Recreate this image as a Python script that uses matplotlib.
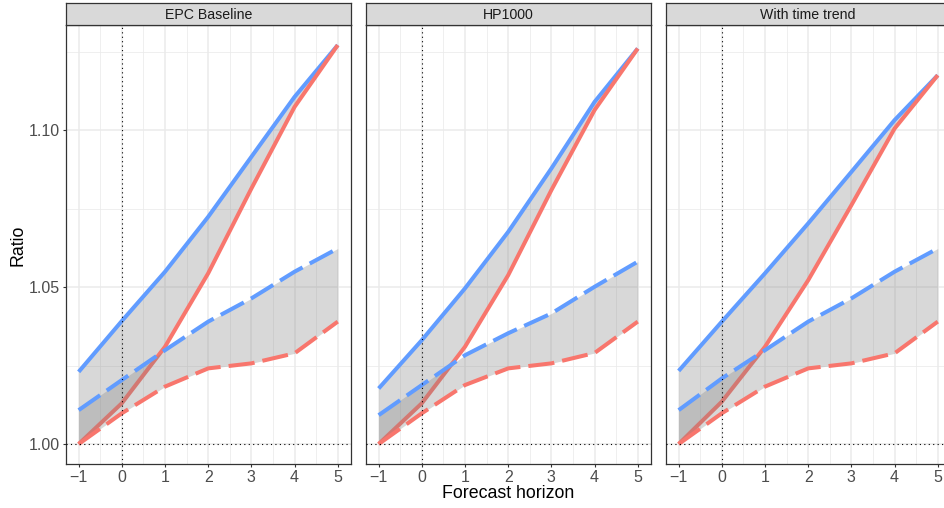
"""Ratio by forecast horizon, three model specs side by side (ggplot-ish facet look)."""
import matplotlib.pyplot as plt

plt.rcParams["font.family"] = ["Liberation Sans", "DejaVu Sans"]

horizon = [-1, 0, 1, 2, 3, 4, 5]
panels = ["EPC Baseline", "HP1000", "With time trend"]

# blue solid / red solid bound the first ribbon, the dashed pair the second
blue_solid = {
    "EPC Baseline":    [1.0230, 1.0392, 1.0549, 1.0724, 1.0915, 1.1106, 1.1271],
    "HP1000":          [1.0177, 1.0331, 1.0496, 1.0676, 1.0878, 1.1090, 1.1260],
    "With time trend": [1.0233, 1.0390, 1.0544, 1.0703, 1.0867, 1.1032, 1.1175],
}
red_solid = {
    "EPC Baseline":    [1.0000, 1.0130, 1.0310, 1.0544, 1.0814, 1.1074, 1.1271],
    "HP1000":          [1.0000, 1.0130, 1.0310, 1.0538, 1.0809, 1.1064, 1.1260],
    "With time trend": [1.0000, 1.0135, 1.0310, 1.0522, 1.0761, 1.1005, 1.1175],
}
blue_dashed = {
    "EPC Baseline":    [1.0108, 1.0204, 1.0299, 1.0390, 1.0464, 1.0549, 1.0623],
    "HP1000":          [1.0092, 1.0188, 1.0283, 1.0353, 1.0416, 1.0501, 1.0581],
    "With time trend": [1.0108, 1.0209, 1.0299, 1.0390, 1.0464, 1.0549, 1.0623],
}
red_dashed = {
    "EPC Baseline":    [1.0000, 1.0098, 1.0183, 1.0241, 1.0257, 1.0289, 1.0390],
    "HP1000":          [1.0000, 1.0098, 1.0188, 1.0241, 1.0257, 1.0290, 1.0390],
    "With time trend": [1.0000, 1.0098, 1.0183, 1.0241, 1.0257, 1.0289, 1.0390],
}

yticks = [1.00, 1.05, 1.10]
ytick_labels = ["1.00", "1.05", "1.10"]
xtick_labels = ["\u22121", "0", "1", "2", "3", "4", "5"]

BLUE = "#619CFF"
RED = "#F8766D"
W, H = 944, 508

fig = plt.figure(figsize=(W / 100, H / 100), dpi=100)

left0, pw, gap = 65.7, 285.0, 15.0
top, bottom = 25.0, 464.0
strip_top = 3.0

for i, name in enumerate(panels):
    x0 = left0 + i * (pw + gap)
    ax = fig.add_axes([x0 / W, (H - bottom) / H, pw / W, (bottom - top) / H])

    # ribbon between the solid lines sits under them; the dashed ribbon
    # goes over the solid lines (that's why the red solid darkens bottom-left)
    ax.fill_between(horizon, red_solid[name], blue_solid[name],
                    color="#7f7f7f", alpha=0.3, lw=0, zorder=1.5)
    ax.plot(horizon, blue_solid[name], color=BLUE, lw=2.9, solid_capstyle="butt", zorder=2)
    ax.plot(horizon, red_solid[name], color=RED, lw=2.9, solid_capstyle="butt", zorder=2)
    ax.fill_between(horizon, red_dashed[name], blue_dashed[name],
                    color="#7f7f7f", alpha=0.3, lw=0, zorder=2.5)
    ax.plot(horizon, blue_dashed[name], color=BLUE, lw=2.9, dashes=(6.5, 2), zorder=3)
    ax.plot(horizon, red_dashed[name], color=RED, lw=2.9, dashes=(6.5, 2), zorder=3)

    ax.axvline(0, color="black", lw=0.8, ls=(0, (1, 3)), zorder=4)
    ax.axhline(1.0, color="black", lw=0.8, ls=(0, (1, 3)), zorder=4)

    ax.set_xlim(-1.3, 5.3)
    ax.set_ylim(0.99364, 1.1335)
    ax.set_xticks(horizon)
    ax.set_xticks([-0.5, 0.5, 1.5, 2.5, 3.5, 4.5], minor=True)
    ax.set_yticks(yticks)
    ax.set_yticks([1.025, 1.075, 1.125], minor=True)
    ax.set_xticklabels(xtick_labels)
    if i == 0:
        ax.set_yticklabels(ytick_labels)
    else:
        ax.tick_params(axis="y", which="major", left=False, labelleft=False)

    ax.grid(True, which="major", color="#ebebeb", lw=1.1, zorder=0)
    ax.grid(True, which="minor", color="#ebebeb", lw=0.55, zorder=0)
    ax.set_axisbelow(True)
    ax.tick_params(which="major", length=2.5, width=0.8, color="#333333",
                   labelsize=11.5, labelcolor="#4d4d4d", pad=1.5)
    ax.tick_params(which="minor", length=0)
    for sp in ax.spines.values():
        sp.set_color("#333333")
        sp.set_linewidth(0.9)

    # facet strip
    sax = fig.add_axes([x0 / W, (H - top) / H, pw / W, (top - strip_top) / H])
    sax.set_xticks([])
    sax.set_yticks([])
    sax.set_facecolor("#d9d9d9")
    for sp in sax.spines.values():
        sp.set_color("#333333")
        sp.set_linewidth(0.9)
    sax.text(0.5, 0.45, name, ha="center", va="center", fontsize=10.2,
             color="#1a1a1a", transform=sax.transAxes)

fig.text(18 / W, 1 - 245 / H, "Ratio", rotation=90, ha="center", va="center",
         fontsize=12.8, color="black")
fig.text(508 / W, 1 - 493 / H, "Forecast horizon", ha="center", va="center",
         fontsize=12.8, color="black")

fig.savefig("out.png", dpi=100)
